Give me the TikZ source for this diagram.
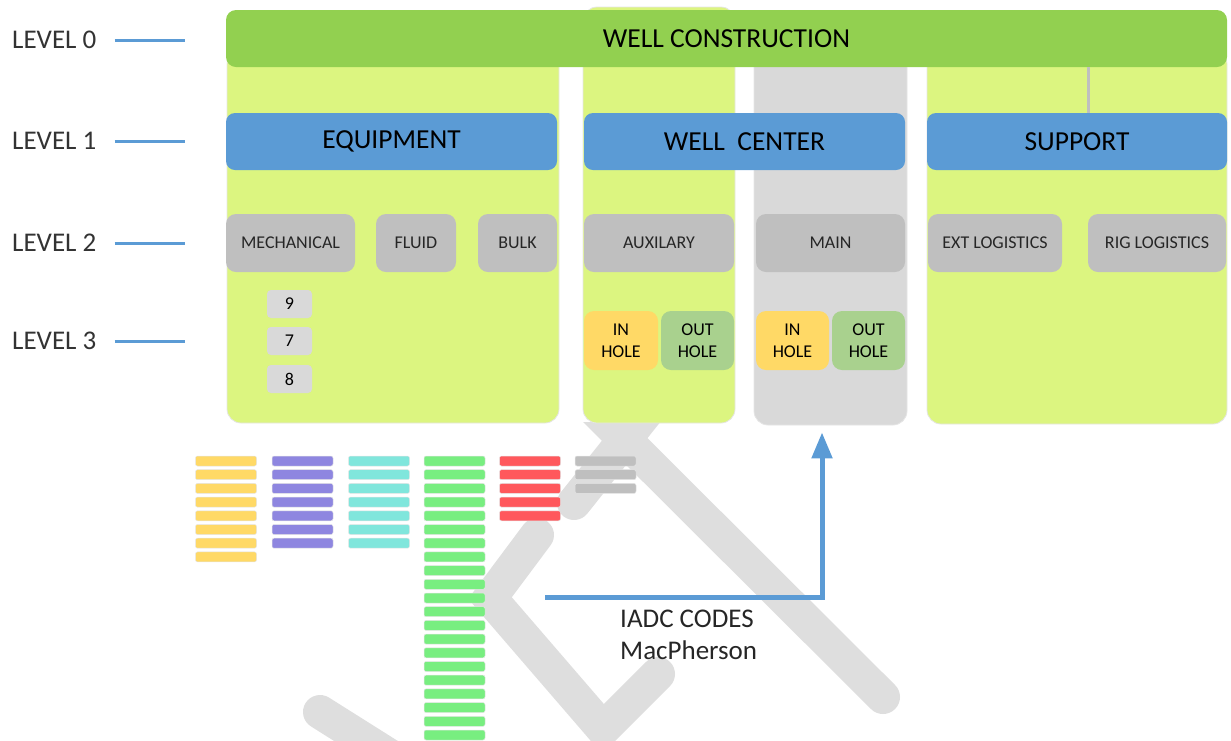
\documentclass[tikz,border=0pt]{standalone}
\usepackage{fontspec}
\setmainfont{Carlito}
\usetikzlibrary{arrows.meta}

\definecolor{topgreen}{RGB}{146,208,80}
\definecolor{colgreen}{RGB}{220,245,128}
\definecolor{lvblue}{RGB}{91,155,213}
\definecolor{lvgray}{RGB}{191,191,191}
\definecolor{colgray}{RGB}{217,217,217}
\definecolor{inyellow}{RGB}{255,217,102}
\definecolor{outgreen}{RGB}{169,209,142}
\definecolor{wmgray}{RGB}{222,222,222}
\definecolor{barY}{RGB}{255,217,102}
\definecolor{barP}{RGB}{142,134,224}
\definecolor{barC}{RGB}{128,230,220}
\definecolor{barG}{RGB}{120,238,128}
\definecolor{barR}{RGB}{255,88,92}
\definecolor{barK}{RGB}{191,191,191}

\newcommand{\bigfont}{\fontsize{27.5pt}{30pt}\selectfont}
\newcommand{\lvlfont}{\fontsize{27pt}{32pt}\selectfont}
\newcommand{\subfont}{\fontsize{18pt}{22pt}\selectfont}

\begin{document}
\begin{tikzpicture}[x=1pt, y=-1pt, >=Stealth,
    wmark/.style={draw=wmgray, line width=34pt, line cap=round},
    colbox/.style={draw=black!10, line width=0.8pt, rounded corners=14pt, inner sep=0pt},
    topbox/.style={fill=topgreen, rounded corners=10pt, inner sep=0pt, minimum height=57pt, font=\bigfont},
    mainbox/.style={fill=lvblue, rounded corners=9pt, inner sep=0pt, minimum height=57pt, font=\bigfont},
    subbox/.style={fill=lvgray, rounded corners=10pt, inner sep=0pt, minimum height=58pt, font=\subfont, text=black!85},
    holebox/.style={rounded corners=10pt, inner sep=0pt, minimum width=73pt, minimum height=59pt, align=center, font=\subfont},
    numbox/.style={fill=colgray, rounded corners=4pt, inner sep=0pt, minimum width=45pt, minimum height=28pt, font=\subfont},
    lvlabel/.style={anchor=west, inner sep=0pt, font=\lvlfont, text=black!80},
    lvline/.style={draw=lvblue, line width=3pt},
    link/.style={draw=lvgray, line width=3pt},
    bar/.style={draw=black!10, line width=0.5pt, rounded corners=2pt, inner sep=0pt, minimum width=61pt, minimum height=10pt},
    flow/.style={draw=lvblue, line width=5pt, -{Triangle[length=26pt, width=20pt]}}]
    \useasboundingbox (0,0) rectangle (1231,740);

    % watermark
    \begin{scope}
        \clip (0,422) rectangle (1231,740);
        \draw[wmark] (560,375) -- (883,697);
        \draw[wmark] (574,503) -- (680,370);
        \draw[wmark] (537,535) -- (490,598) -- (603,729) -- (658,674);
        \draw[wmark] (320,712) -- (420,775);
    \end{scope}

    % columns
    \node[colbox, fill=colgreen, minimum width=332pt, minimum height=373pt] (eqcol) at (393,236.5) {};
    \node[colbox, fill=colgreen, minimum width=152pt, minimum height=416pt] (auxcol) at (659,215) {};
    \node[colbox, fill=colgray, minimum width=153pt, minimum height=375pt] (maincol) at (830.5,237.5) {};
    \node[colbox, fill=colgreen, minimum width=300pt, minimum height=374pt] (supcol) at (1077,237) {};

    % level 0 and 1
    \node[topbox, minimum width=1001pt] (wc) at (726.5,38.5) {WELL CONSTRUCTION};
    \node[mainbox, minimum width=331pt] (equip) at (391.5,141.5) {EQUIPMENT};
    \node[mainbox, minimum width=321pt] (center) at (744.5,141.5) {WELL\ \ CENTER};
    \node[mainbox, minimum width=300pt] (sup) at (1077,141.5) {SUPPORT};
    \coordinate (tap) at (1088,0);
    \draw[link] (wc.south -| tap) -- (sup.north -| tap);

    % level 2
    \node[subbox, minimum width=129pt] (mech) at (290.5,243) {MECHANICAL};
    \node[subbox, minimum width=80pt] (fluid) at (416,243) {FLUID};
    \node[subbox, minimum width=79pt] (bulk) at (517.5,243) {BULK};
    \node[subbox, minimum width=150pt] (aux) at (659,243) {AUXILARY};
    \node[subbox, minimum width=149pt] (main) at (830.5,243) {MAIN};
    \node[subbox, minimum width=134pt] (ext) at (995,243) {EXT LOGISTICS};
    \node[subbox, minimum width=138pt] (rig) at (1157,243) {RIG LOGISTICS};

    % level 3
    \node[numbox] (n9) at (289.5,304) {9};
    \node[numbox] (n7) at (289.5,341) {7};
    \node[numbox] (n8) at (289.5,379) {8};
    \node[holebox, fill=inyellow, minimum width=74pt] (auxin) at (621,340.5) {IN\\HOLE};
    \node[holebox, fill=outgreen] (auxout) at (697.5,340.5) {OUT\\HOLE};
    \node[holebox, fill=inyellow] (mainin) at (792.5,340.5) {IN\\HOLE};
    \node[holebox, fill=outgreen] (mainout) at (868.5,340.5) {OUT\\HOLE};

    % level labels
    \node[lvlabel] (lv0) at (12,40) {LEVEL 0};
    \node[lvlabel] (lv1) at (12,141) {LEVEL 1};
    \node[lvlabel] (lv2) at (12,243) {LEVEL 2};
    \node[lvlabel] (lv3) at (12,341) {LEVEL 3};
    \foreach \l in {lv0,lv1,lv2,lv3}
        \draw[lvline] ([xshift=18pt]\l.east) -- ++(70,0);

    % code bars
    \foreach \c/\x/\n in {barY/226/7, barP/302.5/6, barC/379/6, barG/454.5/20, barR/530/4, barK/605.5/2}
        \foreach \k in {0,...,\n}
            \node[bar, fill=\c] (\c\k) at (\x,{461+13.7*\k}) {};

    % codes arrow
    \coordinate (codes) at (545,597);
    \draw[flow, shorten >=7pt] (codes) -| ([xshift=-8.5pt]maincol.south);
    \node[anchor=west, align=left, inner sep=0pt, font=\lvlfont, text=black!85] (iadc) at (620,635) {IADC CODES\\MacPherson};
\end{tikzpicture}
\end{document}
